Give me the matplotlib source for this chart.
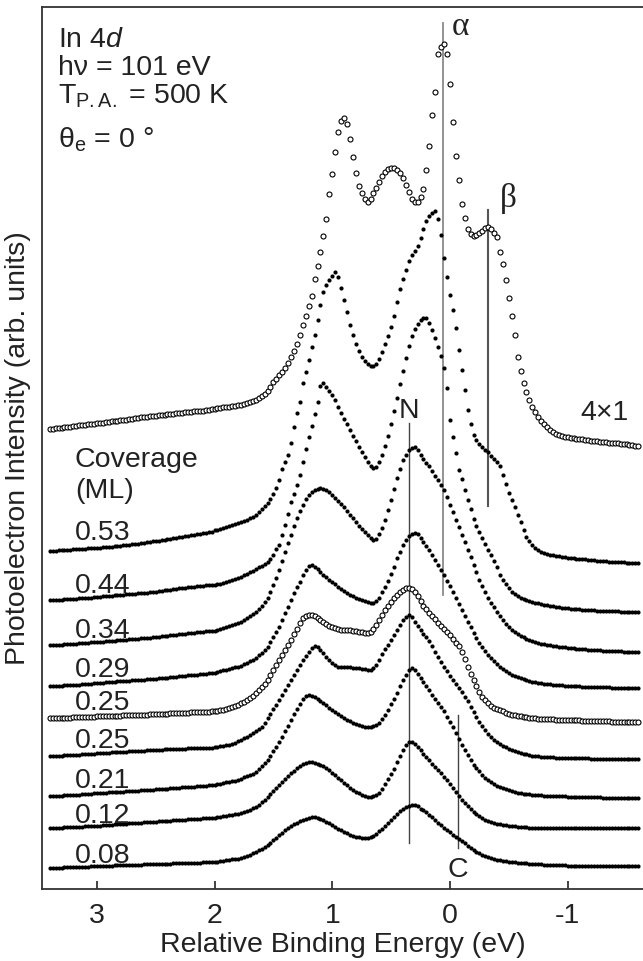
import numpy as np
import matplotlib
matplotlib.use("Agg")
import matplotlib.pyplot as plt

plt.rcParams['font.family'] = ['Liberation Sans', 'DejaVu Sans']
plt.rcParams['mathtext.fontset'] = 'custom'
plt.rcParams['mathtext.rm'] = 'Liberation Sans'
plt.rcParams['mathtext.it'] = 'Liberation Sans:italic'

# ---------------- data ----------------
# all spectra sampled on a uniform energy grid: 3.40 eV down to -1.60 eV, step 0.025 eV
# (each row below = 8 points = 0.2 eV)
grid_start = 3.40
grid_step = 0.025

int_4x1 = [
    460, 460, 461, 461, 461, 462, 462, 462,
    463, 463, 464, 464, 464, 465, 465, 465,
    466, 466, 466, 467, 467, 468, 468, 468,
    469, 469, 469, 470, 470, 471, 471, 472,
    472, 472, 473, 473, 473, 474, 474, 474,
    475, 475, 475, 476, 476, 476, 477, 477,
    477, 478, 478, 478, 478, 479, 479, 480,
    480, 481, 481, 482, 482, 482, 483, 483,
    484, 484, 485, 486, 487, 488, 489, 491,
    493, 495, 498, 502, 507, 510, 514, 517,
    521, 526, 532, 538, 545, 554, 564, 573,
    583, 593, 610, 623, 637, 653, 670, 695,
    715, 737, 757, 768, 771, 765, 750, 732,
    716, 703, 696, 690, 687, 690, 696, 701,
    707, 713, 717, 720, 721, 721, 719, 716,
    711, 704, 697, 690, 687, 687, 692, 700,
    719, 743, 774, 797, 835, 842, 845, 835,
    805, 767, 733, 709, 685, 671, 660, 655,
    653, 654, 656, 658, 661, 662, 660, 656,
    652, 637, 625, 609, 591, 573, 554, 532,
    518, 506, 497, 489, 482, 477, 472, 468,
    465, 462, 459, 457, 455, 454, 453, 452,
    452, 451, 451, 450, 450, 450, 449, 449,
    448, 448, 448, 447, 447, 447, 446, 446,
    446, 446, 445, 445, 445, 444, 444, 443,
    443,
]

int_025_open = [
    171, 171, 171, 171, 171, 171, 171, 171,
    172, 172, 172, 172, 172, 172, 172, 172,
    173, 173, 173, 173, 173, 173, 173, 173,
    173, 174, 174, 174, 174, 174, 174, 174,
    174, 174, 175, 175, 175, 175, 175, 175,
    175, 176, 176, 176, 176, 176, 176, 176,
    177, 177, 177, 177, 177, 177, 177, 178,
    178, 178, 179, 179, 180, 181, 182, 183,
    184, 186, 187, 189, 191, 193, 196, 199,
    202, 205, 209, 214, 219, 224, 229, 234,
    239, 244, 249, 255, 260, 266, 271, 273,
    274, 274, 273, 271, 269, 267, 265, 263,
    262, 261, 260, 259, 259, 259, 259, 258,
    258, 257, 257, 256, 256, 257, 260, 264,
    269, 274, 279, 283, 287, 291, 294, 297,
    299, 301, 301, 300, 297, 293, 288, 283,
    280, 276, 273, 270, 266, 263, 260, 257,
    254, 250, 246, 243, 237, 230, 222, 215,
    209, 203, 197, 192, 189, 186, 183, 181,
    180, 179, 178, 176, 175, 174, 174, 173,
    173, 172, 172, 171, 171, 171, 170, 170,
    170, 170, 170, 170, 169, 169, 169, 169,
    169, 169, 169, 169, 169, 168, 168, 168,
    168, 168, 168, 168, 168, 168, 168, 167,
    167, 167, 167, 167, 167, 167, 167, 167,
    167,
]

int_053 = [
    338, 338, 338, 339, 339, 339, 339, 339,
    340, 340, 340, 340, 340, 341, 341, 341,
    341, 341, 342, 342, 342, 342, 343, 343,
    343, 344, 344, 344, 345, 345, 345, 346,
    346, 347, 347, 348, 348, 348, 349, 349,
    350, 350, 351, 351, 352, 352, 353, 353,
    354, 354, 355, 355, 356, 356, 357, 357,
    359, 359, 360, 361, 362, 363, 364, 365,
    366, 367, 368, 369, 371, 372, 374, 377,
    380, 383, 386, 390, 395, 401, 409, 420,
    427, 434, 446, 462, 476, 487, 506, 517,
    529, 542, 554, 569, 584, 597, 604, 609,
    613, 617, 612, 601, 589, 577, 564, 554,
    545, 538, 532, 528, 525, 523, 523, 525,
    530, 537, 545, 553, 562, 573, 587, 600,
    610, 619, 628, 634, 638, 643, 651, 660,
    668, 673, 676, 678, 670, 654, 631, 612,
    594, 579, 561, 539, 519, 499, 479, 465,
    454, 449, 445, 442, 439, 437, 433, 430,
    427, 423, 414, 405, 396, 389, 382, 374,
    367, 359, 352, 348, 344, 341, 339, 337,
    336, 335, 334, 334, 333, 333, 332, 332,
    331, 331, 331, 330, 330, 330, 330, 329,
    329, 329, 328, 328, 328, 328, 327, 327,
    327, 327, 327, 327, 326, 326, 326, 326,
    326,
]

int_044 = [
    289, 289, 289, 289, 289, 290, 290, 290,
    290, 290, 291, 291, 291, 291, 291, 292,
    292, 292, 293, 293, 293, 293, 294, 294,
    294, 294, 295, 295, 295, 295, 296, 296,
    296, 296, 297, 297, 297, 298, 298, 299,
    299, 299, 300, 300, 301, 301, 301, 302,
    302, 302, 303, 303, 303, 304, 304, 304,
    304, 305, 305, 306, 307, 308, 309, 310,
    311, 312, 314, 315, 317, 318, 320, 322,
    323, 325, 327, 330, 334, 340, 344, 354,
    364, 375, 387, 395, 404, 414, 427, 440,
    452, 463, 475, 487, 503, 506, 502, 498,
    494, 489, 482, 476, 470, 465, 459, 453,
    448, 442, 437, 432, 427, 423, 421, 422,
    427, 434, 443, 453, 465, 478, 491, 505,
    518, 531, 543, 553, 560, 565, 569, 571,
    571, 566, 559, 551, 542, 533, 521, 501,
    469, 452, 436, 419, 410, 399, 389, 380,
    370, 363, 357, 351, 345, 339, 334, 328,
    322, 314, 309, 305, 301, 297, 295, 293,
    291, 290, 289, 288, 287, 286, 286, 285,
    284, 284, 283, 283, 282, 282, 281, 281,
    281, 280, 280, 280, 280, 279, 279, 279,
    279, 279, 278, 278, 278, 278, 278, 278,
    278, 278, 277, 277, 277, 277, 277, 277,
    277,
]

int_034 = [
    244, 244, 244, 244, 244, 245, 245, 245,
    245, 245, 246, 246, 246, 246, 247, 247,
    247, 247, 247, 248, 248, 248, 248, 249,
    249, 249, 249, 250, 250, 250, 250, 251,
    251, 251, 251, 252, 252, 252, 253, 253,
    253, 254, 254, 254, 255, 255, 255, 256,
    256, 256, 257, 257, 257, 258, 258, 258,
    258, 259, 260, 261, 262, 263, 264, 265,
    266, 267, 269, 271, 273, 275, 277, 280,
    283, 287, 291, 297, 304, 311, 319, 328,
    337, 346, 354, 363, 371, 378, 384, 390,
    394, 397, 399, 400, 401, 400, 399, 397,
    394, 391, 388, 385, 382, 378, 374, 371,
    367, 363, 360, 357, 354, 351, 349, 350,
    355, 361, 369, 379, 389, 400, 411, 420,
    429, 434, 439, 441, 442, 439, 434, 430,
    426, 423, 418, 413, 409, 404, 399, 392,
    384, 377, 369, 362, 354, 347, 339, 332,
    324, 317, 309, 303, 297, 291, 286, 282,
    277, 273, 269, 265, 262, 259, 257, 255,
    253, 252, 250, 249, 248, 247, 246, 245,
    245, 244, 244, 243, 243, 242, 242, 242,
    241, 241, 241, 240, 240, 240, 240, 239,
    239, 239, 239, 239, 238, 238, 238, 238,
    238, 238, 238, 237, 237, 237, 237, 237,
    237,
]

int_029 = [
    203, 203, 203, 203, 203, 204, 204, 204,
    204, 204, 204, 205, 205, 205, 205, 206,
    206, 206, 206, 207, 207, 207, 207, 208,
    208, 208, 208, 208, 209, 209, 209, 209,
    209, 210, 210, 210, 210, 211, 211, 211,
    211, 212, 212, 212, 213, 213, 213, 214,
    214, 214, 214, 215, 215, 215, 216, 216,
    216, 217, 218, 219, 219, 220, 221, 222,
    222, 223, 225, 226, 228, 229, 231, 234,
    236, 239, 242, 247, 252, 257, 262, 269,
    276, 282, 289, 296, 302, 307, 314, 319,
    323, 324, 322, 320, 317, 314, 312, 309,
    307, 305, 302, 300, 298, 296, 294, 293,
    291, 290, 289, 288, 287, 286, 286, 288,
    291, 297, 302, 308, 315, 322, 331, 337,
    344, 349, 353, 355, 356, 355, 351, 347,
    343, 339, 334, 329, 324, 319, 314, 308,
    303, 297, 291, 285, 279, 273, 267, 262,
    256, 251, 246, 242, 238, 234, 231, 228,
    225, 222, 220, 218, 216, 214, 213, 212,
    211, 210, 209, 208, 207, 207, 206, 206,
    205, 205, 205, 204, 204, 204, 204, 203,
    203, 203, 203, 203, 203, 202, 202, 202,
    202, 202, 202, 202, 202, 202, 202, 201,
    201, 201, 201, 201, 201, 201, 201, 201,
    201,
]

int_025 = [
    133, 133, 133, 133, 133, 134, 134, 134,
    134, 134, 134, 135, 135, 135, 135, 135,
    136, 136, 136, 136, 136, 137, 137, 137,
    137, 137, 137, 138, 138, 138, 138, 138,
    138, 139, 139, 139, 139, 139, 139, 140,
    140, 140, 140, 140, 140, 140, 140, 141,
    141, 141, 141, 141, 141, 141, 141, 141,
    142, 142, 143, 143, 144, 144, 145, 146,
    148, 149, 151, 152, 154, 156, 158, 160,
    162, 166, 171, 175, 180, 184, 189, 194,
    199, 204, 209, 214, 219, 224, 229, 233,
    237, 241, 243, 242, 239, 236, 232, 229,
    226, 224, 222, 222, 222, 222, 222, 221,
    221, 221, 220, 220, 219, 219, 221, 224,
    229, 235, 240, 244, 249, 254, 259, 264,
    269, 272, 274, 272, 267, 263, 259, 255,
    252, 248, 243, 237, 232, 227, 222, 218,
    213, 209, 205, 201, 197, 192, 188, 182,
    177, 172, 167, 163, 159, 155, 152, 149,
    147, 145, 143, 142, 140, 139, 138, 137,
    136, 135, 135, 134, 133, 133, 133, 132,
    132, 132, 132, 132, 131, 131, 131, 131,
    131, 131, 131, 131, 131, 131, 131, 131,
    130, 130, 130, 130, 130, 130, 130, 130,
    130, 130, 130, 130, 130, 130, 130, 130,
    130,
]

int_021 = [
    93, 93, 93, 93, 93, 94, 94, 94,
    94, 94, 94, 95, 95, 95, 95, 96,
    96, 96, 96, 96, 97, 97, 97, 97,
    97, 97, 98, 98, 98, 98, 98, 99,
    99, 99, 99, 99, 100, 100, 100, 100,
    100, 101, 101, 101, 101, 102, 102, 102,
    102, 102, 103, 103, 103, 103, 104, 104,
    104, 105, 105, 106, 107, 107, 108, 108,
    109, 110, 112, 113, 114, 115, 117, 120,
    123, 126, 129, 133, 138, 142, 147, 152,
    158, 163, 169, 175, 180, 185, 190, 193,
    194, 193, 192, 190, 188, 186, 184, 181,
    179, 177, 175, 173, 171, 169, 168, 166,
    165, 164, 163, 162, 162, 162, 163, 164,
    166, 170, 174, 179, 185, 190, 196, 203,
    209, 214, 219, 221, 219, 215, 211, 207,
    203, 199, 194, 190, 186, 182, 178, 172,
    167, 162, 156, 150, 144, 139, 134, 129,
    124, 121, 118, 114, 111, 109, 107, 105,
    103, 102, 101, 100, 99, 98, 97, 96,
    96, 95, 95, 95, 94, 94, 94, 94,
    93, 93, 93, 93, 93, 93, 93, 93,
    92, 92, 92, 92, 92, 92, 92, 92,
    92, 92, 92, 92, 91, 91, 91, 91,
    91, 91, 91, 91, 91, 91, 91, 91,
    91,
]

int_012 = [
    61, 61, 61, 61, 61, 62, 62, 62,
    62, 62, 62, 62, 63, 63, 63, 63,
    63, 63, 64, 64, 64, 64, 65, 65,
    65, 65, 65, 66, 66, 66, 66, 66,
    67, 67, 67, 67, 67, 68, 68, 68,
    68, 68, 69, 69, 69, 69, 69, 70,
    70, 70, 70, 70, 71, 71, 71, 71,
    71, 72, 72, 73, 73, 74, 74, 75,
    75, 76, 77, 78, 79, 81, 82, 84,
    87, 89, 92, 95, 98, 101, 104, 107,
    110, 113, 116, 118, 121, 123, 125, 126,
    127, 127, 126, 125, 124, 123, 121, 119,
    116, 114, 111, 109, 106, 104, 101, 99,
    97, 96, 94, 93, 92, 92, 93, 94,
    96, 100, 105, 110, 115, 120, 127, 133,
    139, 144, 147, 147, 145, 142, 139, 135,
    132, 129, 125, 122, 119, 116, 112, 109,
    105, 101, 97, 93, 89, 86, 83, 80,
    77, 75, 73, 71, 69, 68, 67, 66,
    65, 65, 64, 64, 63, 63, 63, 62,
    62, 62, 62, 61, 61, 61, 61, 61,
    61, 61, 61, 61, 61, 61, 61, 61,
    61, 61, 61, 61, 61, 61, 61, 61,
    61, 61, 61, 61, 61, 61, 61, 61,
    61, 61, 61, 61, 61, 61, 61, 61,
    61,
]

int_008 = [
    21, 21, 21, 21, 21, 22, 22, 22,
    22, 22, 22, 22, 22, 22, 23, 23,
    23, 23, 23, 23, 23, 23, 24, 24,
    24, 24, 24, 24, 24, 24, 24, 24,
    25, 25, 25, 25, 25, 25, 25, 25,
    25, 25, 26, 26, 26, 26, 26, 26,
    26, 26, 26, 26, 27, 27, 27, 27,
    27, 27, 28, 28, 29, 29, 30, 30,
    30, 31, 32, 33, 34, 36, 37, 39,
    40, 42, 44, 46, 49, 51, 54, 56,
    59, 61, 63, 65, 66, 68, 69, 70,
    71, 72, 72, 71, 70, 69, 67, 66,
    64, 62, 60, 59, 57, 56, 54, 53,
    52, 52, 51, 51, 51, 52, 53, 55,
    58, 60, 63, 66, 69, 72, 75, 78,
    80, 82, 83, 84, 84, 83, 80, 79,
    77, 74, 72, 69, 66, 64, 61, 59,
    57, 54, 52, 50, 48, 46, 43, 41,
    39, 37, 36, 34, 33, 32, 31, 30,
    29, 29, 28, 28, 27, 27, 27, 26,
    26, 26, 26, 25, 25, 25, 25, 25,
    24, 24, 24, 24, 24, 24, 24, 24,
    23, 23, 23, 23, 23, 23, 23, 23,
    23, 23, 23, 23, 23, 23, 23, 23,
    23, 23, 23, 23, 23, 23, 23, 23,
    23,
]

filled_spectra = [int_053, int_044, int_034, int_029, int_025, int_021, int_012, int_008]
open_spectra = [int_4x1, int_025_open]

coverage_labels = ["0.53", "0.44", "0.34", "0.29", "0.25", "0.25", "0.21", "0.12", "0.08"]
label_y = [349, 296, 251, 212, 179, 141, 101, 66, 26]

# component marker lines: (energy, y_start, y_end)
line_alpha = (0.06, 294, 866)
line_beta = (-0.32, 383, 679)
line_N = (0.346, 46, 466)
line_C = (-0.07, 41, 174)

x_ticks = [3, 2, 1, 0, -1]

# ---------------- figure ----------------
W, H = 643, 961
fig = plt.figure(figsize=(W / 100, H / 100), dpi=100)
ax = fig.add_axes([42 / W, (H - 889) / H, (W - 42) / W, (889 - 6.7) / H])
ax.set_xlim(3.466, -1.640)
ax.set_ylim(0, 882.3)

FS = 20.5


def grid_energy(vals):
    return grid_start - grid_step * np.arange(len(vals))


for spec in open_spectra:
    ax.plot(grid_energy(spec), spec, ls='none', marker='o', ms=3.6, mfc='white',
            mec='black', mew=0.8, zorder=4)

for spec in filled_spectra:
    ax.plot(grid_energy(spec), spec, ls='none', marker='o', ms=3.0, mfc='black',
            mec='black', mew=0.0, zorder=3)

ax.plot([line_alpha[0]] * 2, line_alpha[1:], color='#8a8a8a', lw=1.3, zorder=2)
ax.plot([line_beta[0]] * 2, line_beta[1:], color='#555555', lw=1.5, zorder=2)
ax.plot([line_N[0]] * 2, line_N[1:], color='#444444', lw=1.0, zorder=2)
ax.plot([line_C[0]] * 2, line_C[1:], color='#444444', lw=1.0, zorder=2)

tc = '#222222'
ax.text(-0.017, 862, "α", fontsize=24, family=['Liberation Serif', 'DejaVu Serif'], color=tc,
        ha='left', va='center')
ax.text(-0.425, 690, "β", fontsize=24, family=['Liberation Serif', 'DejaVu Serif'], color=tc,
        ha='left', va='center')
ax.text(0.348, 478, "N", fontsize=FS, color=tc, ha='center', va='center')
ax.text(-1.317, 476, "4×1", fontsize=FS, color=tc, ha='center', va='center')
ax.text(-0.068, 19, "C", fontsize=FS, color=tc, ha='center', va='center')

lx = 3.186
ax.text(lx, 422, "Coverage", fontsize=FS, color=tc, ha='left', va='baseline')
ax.text(lx, 391, "(ML)", fontsize=FS, color=tc, ha='left', va='baseline')
for lab, yy in zip(coverage_labels, label_y):
    ax.text(lx, yy, lab, fontsize=FS, color=tc, ha='left', va='baseline')

tx = 3.33
ax.text(tx, 842, r"In 4$\it{d}$", fontsize=FS, color=tc, ha='left', va='baseline')
ax.text(tx, 814, "hν = 101 eV", fontsize=FS, color=tc, ha='left', va='baseline')
ax.text(tx, 786, r"T$_{\rm P.A.}$ = 500 K", fontsize=FS, color=tc, ha='left', va='baseline')
ax.text(tx, 742, r"θ$_{\rm e}$ = 0 °", fontsize=FS, color=tc, ha='left', va='baseline')

ax.set_xticks(x_ticks)
ax.set_xticklabels([str(t) for t in x_ticks])
ax.tick_params(axis='x', direction='in', length=6, width=1.2, labelsize=FS, pad=10, colors=tc)
ax.set_yticks([])
ax.spines['right'].set_visible(False)
for s in ['left', 'top', 'bottom']:
    ax.spines[s].set_linewidth(1.3)
    ax.spines[s].set_color('#333333')

ax.set_xlabel("Relative Binding Energy (eV)", fontsize=FS, color=tc, labelpad=2)
ax.set_ylabel("Photoelectron Intensity (arb. units)", fontsize=FS, color=tc, labelpad=8)

fig.savefig("out.png", dpi=100)
